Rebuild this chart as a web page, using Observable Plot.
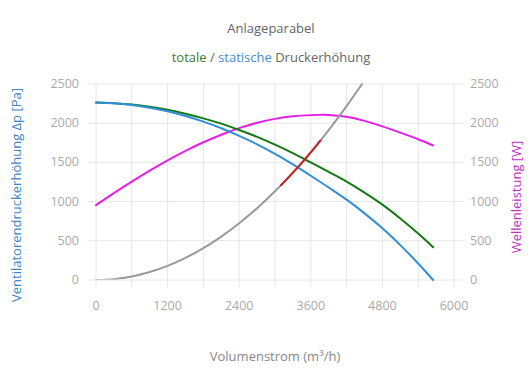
<!DOCTYPE html>
<html><head><meta charset="utf-8">
<script src="https://cdn.jsdelivr.net/npm/d3@7"></script>
<script src="https://cdn.jsdelivr.net/npm/@observablehq/plot@0.6"></script>
<style>
body{margin:0;background:#fff;font-family:"Open Sans",sans-serif;}
#wrap{position:relative;width:530px;height:390px;overflow:hidden;}
#wrap svg{position:absolute;left:0;top:0;}
.t{position:absolute;left:0;width:542px;text-align:center;font-size:13px;line-height:18px;color:#666;}
</style></head><body>
<div id="wrap"></div>
<script>
// Fan curve (flow in m³/h)
const flow = [0,300,600,900,1200,1500,1800,2100,2400,2700,3000,3300,3600,3900,4200,4500,4800,5100,5400,5650];
const staticP = [2265,2255,2233,2198,2152,2092,2020,1936,1839,1731,1609,1475,1330,1180,1025,850,660,445,210,0];
const totalP  = [2265,2256,2238,2209,2171,2121,2062,1994,1914,1826,1727,1618,1500,1379,1256,1115,962,785,592,418];
const power   = [955,1108,1255,1395,1527,1648,1757,1853,1937,2005,2055,2088,2103,2105,2082,2030,1960,1880,1795,1716];
// System parabola
const sysFlow = [0,300,600,900,1200,1500,1800,2100,2400,2700,3000,3300,3600,3900,4200,4470];
const sysP    = [0,11,45,102,181,283,407,554,724,916,1131,1369,1629,1912,2217,2512];
// Operating range on system parabola
const opFlow = [3100,3250,3400,3550,3700,3760];
const opP    = [1208,1328,1453,1584,1721,1777];
// Axes
const xTicks = [0,600,1200,1800,2400,3000,3600,4200,4800,5400,6000];
const xLabels = [0,1200,2400,3600,4800,6000];
const yTicks = [0,500,1000,1500,2000,2500];

const fan = flow.map((q,i)=>({q, s: staticP[i], t: totalP[i], p: power[i]}));
const sys = sysFlow.map((q,i)=>({q, v: sysP[i]}));
const op = opFlow.map((q,i)=>({q, v: opP[i]}));

const grid = "#e6e6e6", tickTxt = "#aaa";
const chart = Plot.plot({
  width: 530, height: 390,
  marginLeft: 95.5, marginRight: 76.5, marginTop: 83.5, marginBottom: 110.5,
  x: {domain: [0, 6000]},
  y: {domain: [0, 2500]},
  style: {fontFamily: "'Open Sans', sans-serif", fontSize: "12.5px", background: "transparent"},
  marks: [
    Plot.gridX(xTicks, {stroke: grid, strokeOpacity: 1}),
    Plot.gridY(yTicks, {stroke: grid, strokeOpacity: 1}),
    Plot.axisY(yTicks, {anchor: "left", tickSize: 8, tickPadding: 9, stroke: grid, fill: tickTxt, label: null, tickFormat: d => String(d)}),
    Plot.axisY(yTicks, {anchor: "right", tickSize: 9, tickPadding: 7, stroke: grid, fill: tickTxt, label: null, tickFormat: d => String(d)}),
    Plot.axisX(xTicks, {anchor: "bottom", tickSize: 8, tickPadding: 13, stroke: grid, fill: tickTxt, label: null,
      tickFormat: d => xLabels.includes(d) ? String(d) : ""}),
    Plot.line(fan, {x: "q", y: "p", stroke: "#e61ee6", strokeWidth: 2, curve: "catmull-rom"}),
    Plot.line(sys, {x: "q", y: "v", stroke: "#9a9a9a", strokeWidth: 2, curve: "catmull-rom", clip: true}),
    Plot.line(fan, {x: "q", y: "t", stroke: "#137a13", strokeWidth: 2, curve: "catmull-rom"}),
    Plot.line(fan, {x: "q", y: "s", stroke: "#2f8fd8", strokeWidth: 2, curve: "catmull-rom"}),
    Plot.line(op, {x: "q", y: "v", stroke: "#cc1f1f", strokeWidth: 2, curve: "catmull-rom"}),
    Plot.text(["Volumenstrom (m³/h)"], {frameAnchor: "bottom", dy: 81, text: d => d, fill: "#888", fontSize: 13}),
    Plot.text(["Ventilatorendruckerhöhung Δp [Pa]"], {frameAnchor: "left", textAnchor: "middle", rotate: -90, dx: -79, dy: 13, text: d => d, fill: "#3d85c6", fontSize: 13}),
    Plot.text(["Wellenleistung [W]"], {frameAnchor: "right", textAnchor: "middle", rotate: -90, dx: 63, dy: 15, text: d => d, fill: "#c030c0", fontSize: 13})
  ]
});
const wrap = document.getElementById("wrap");
wrap.appendChild(chart);
const t1 = document.createElement("div");
t1.className = "t"; t1.style.top = "19px"; t1.textContent = "Anlageparabel";
wrap.appendChild(t1);
const t2 = document.createElement("div");
t2.className = "t"; t2.style.top = "48px";
t2.innerHTML = '<span style="color:#3d7a2c">totale</span> / <span style="color:#4a8ccc">statische</span> Druckerhöhung';
wrap.appendChild(t2);
</script>
</body></html>
